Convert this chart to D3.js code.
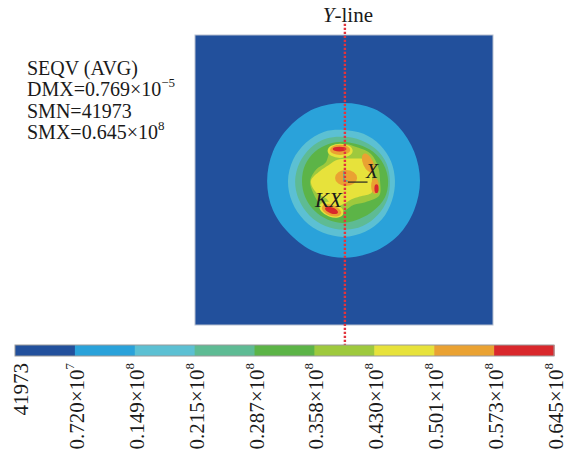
<!DOCTYPE html>
<html>
<head>
<meta charset="utf-8">
<script src="https://cdn.jsdelivr.net/npm/d3@7"></script>
<style>
  body { margin: 0; background: #fff; }
</style>
</head>
<body>
<div id="chart"></div>
<script>
// colour bands of the legend (SEQV, Pa)
const levelValues = [41973, 0.720e7, 0.149e8, 0.215e8, 0.287e8, 0.358e8, 0.430e8, 0.501e8, 0.573e8, 0.645e8];
const tickMantissa = ['41973', '0.720', '0.149', '0.215', '0.287', '0.358', '0.430', '0.501', '0.573', '0.645'];
const tickExponent = [null, '7', '8', '8', '8', '8', '8', '8', '8', '8'];
const bandColors = ['#22509c', '#2aa2da', '#5cc0d3', '#5ebb94', '#5cb447', '#9ec93d', '#e7e23b', '#eaa232', '#d9282c'];

// info block
const infoLines = [
  { text: 'SEQV (AVG)' },
  { text: 'DMX=0.769×10', sup: '−5' },
  { text: 'SMN=41973' },
  { text: 'SMX=0.645×10', sup: '8' }
];

// plate (mm) and contour rings, radius (mm) at 16 directions, clockwise from +x
const plateHalf = [5, 4.87];
const ringCenter = [0, -0.03];
const ringAngles = d3.range(16).map(i => i * 22.5);
const ringLevel = [1, 2, 3, 4, 5, 6];
const ring1 = [2.55, 2.55, 2.58, 2.58, 2.58, 2.58, 2.55, 2.58, 2.58, 2.58, 2.58, 2.62, 2.62, 2.62, 2.58, 2.55];
const ring2 = [1.71, 1.74, 1.81, 1.85, 1.88, 1.88, 1.88, 1.88, 1.88, 1.85, 1.81, 1.78, 1.71, 1.71, 1.71, 1.71];
const ring3 = [1.54, 1.58, 1.61, 1.64, 1.64, 1.64, 1.64, 1.64, 1.64, 1.61, 1.58, 1.54, 1.48, 1.48, 1.51, 1.54];
const ring4 = [1.48, 1.48, 1.41, 1.38, 1.41, 1.41, 1.41, 1.41, 1.41, 1.41, 1.38, 1.34, 1.31, 1.31, 1.38, 1.44];
const ring5 = [1.21, 1.28, 1.01, 0.87, 1.01, 1.28, 1.14, 1.11, 1.14, 1.01, 0.87, 1.14, 1.24, 1.21, 1.28, 1.24];
const ring6 = [0.94, 1.01, 0.74, 0.67, 0.77, 0.94, 0.84, 1.01, 1.11, 0.87, 0.74, 0.74, 0.74, 0.81, 1.01, 1.01];
const rings = [ring1, ring2, ring3, ring4, ring5, ring6];

// hot spots: level, centre x, y (mm), radii (mm), tilt (deg)
const spotLevel = [6, 6, 7, 7, 7, 7, 7, 8, 8, 8];
const spotX   = [-0.13, -0.42, 0.07, 0.81, 1.04, -0.13, -0.42, 1.09, -0.15, -0.42];
const spotY   = [0.98, -1.0, 0.07, 0.57, -0.20, 1.01, -1.02, -0.29, 1.04, -1.02];
const spotRx  = [0.42, 0.42, 0.37, 0.17, 0.13, 0.34, 0.34, 0.07, 0.23, 0.23];
const spotRy  = [0.24, 0.24, 0.27, 0.34, 0.27, 0.17, 0.18, 0.15, 0.08, 0.10];
const spotRot = [0, 20, 0, -25, 0, 0, 20, 0, 0, 20];

const yLineX = 0.03;
const yLineSpan = [5.25, -5.55];

const width = 568, height = 452;
const serif = '"Liberation Serif", "DejaVu Serif", "Times New Roman", serif';
const svg = d3.select('#chart').append('svg')
  .attr('width', width).attr('height', height)
  .attr('font-family', serif)
  .style('font-family', serif);

const x = d3.scaleLinear().domain([-plateHalf[0], plateHalf[0]]).range([195, 493]);
const y = d3.scaleLinear().domain([-plateHalf[1], plateHalf[1]]).range([325, 35]);

// plate
svg.append('rect')
  .attr('x', x(-plateHalf[0])).attr('y', y(plateHalf[1]))
  .attr('width', x(plateHalf[0]) - x(-plateHalf[0]))
  .attr('height', y(-plateHalf[1]) - y(plateHalf[1]))
  .attr('fill', bandColors[0])
  .attr('stroke', '#b7c0d0').attr('stroke-width', 1);

// contour rings
const ringLine = d3.line().curve(d3.curveCatmullRomClosed.alpha(0.5));
const contour = svg.append('g');
rings.forEach((r, k) => {
  const pts = ringAngles.map((a, i) => {
    const t = a * Math.PI / 180;
    return [x(ringCenter[0] + r[i] * Math.cos(t)), y(ringCenter[1] - r[i] * Math.sin(t))];
  });
  contour.append('path')
    .attr('d', ringLine(pts))
    .attr('fill', bandColors[ringLevel[k]]);
});

// hot spots
contour.selectAll('ellipse')
  .data(spotLevel.map((lv, i) => ({ lv, cx: spotX[i], cy: spotY[i], rx: spotRx[i], ry: spotRy[i], rot: spotRot[i] })))
  .join('ellipse')
  .attr('cx', d => x(d.cx)).attr('cy', d => y(d.cy))
  .attr('rx', d => x(d.rx) - x(0)).attr('ry', d => y(0) - y(d.ry))
  .attr('transform', d => `rotate(${d.rot},${x(d.cx)},${y(d.cy)})`)
  .attr('fill', d => bandColors[d.lv]);

// coordinate marker at the centre
svg.append('path')
  .attr('d', `M${x(0.0)},${y(0.3)}V${y(-0.03)}H${x(0.12)}`)
  .attr('fill', 'none').attr('stroke', '#38b6b0').attr('stroke-width', 1.2);
svg.append('line')
  .attr('x1', x(0.13)).attr('x2', x(0.79))
  .attr('y1', y(-0.07)).attr('y2', y(-0.07))
  .attr('stroke', '#222').attr('stroke-width', 1.2);
svg.append('text')
  .attr('x', x(0.74)).attr('y', y(0.07))
  .attr('fill', '#1a1a1a')
  .style('font-style', 'italic').style('font-size', '20px')
  .text('X');
svg.append('text')
  .attr('x', x(-0.97)).attr('y', y(-0.91))
  .attr('fill', '#1a1a1a')
  .style('font-style', 'italic').style('font-size', '21px')
  .text('KX');

// Y-line
svg.append('line')
  .attr('x1', x(yLineX)).attr('x2', x(yLineX))
  .attr('y1', y(yLineSpan[0])).attr('y2', y(yLineSpan[1]))
  .attr('stroke', '#e3343c').attr('stroke-width', 2.4)
  .attr('stroke-dasharray', '2.2 1.8');
const yl = svg.append('text')
  .attr('x', x(yLineX) + 3).attr('y', 22)
  .attr('text-anchor', 'middle')
  .attr('fill', '#1a1a1a')
  .style('font-size', '21px');
yl.append('tspan').style('font-style', 'italic').text('Y');
yl.append('tspan').text('-line');

// info block
const info = svg.append('g').attr('fill', '#1a1a1a');
infoLines.forEach((l, i) => {
  const t = info.append('text')
    .attr('x', 27).attr('y', 75 + i * 21.3)
    .style('font-size', '20px');
  t.append('tspan').text(l.text);
  if (l.sup) t.append('tspan').attr('dy', -9).style('font-size', '13px').text(l.sup);
});

// colour bar
const band = d3.scaleBand().domain(d3.range(bandColors.length)).range([15, 554]);
const tick = d3.scalePoint().domain(d3.range(levelValues.length)).range([15, 554]);
const bar = svg.append('g');
bar.selectAll('rect')
  .data(bandColors)
  .join('rect')
  .attr('x', (d, i) => band(i)).attr('y', 345)
  .attr('width', band.bandwidth() + 0.5).attr('height', 11)
  .attr('fill', d => d);
bar.append('rect')
  .attr('x', 15).attr('y', 345)
  .attr('width', 554 - 15).attr('height', 11)
  .attr('fill', 'none').attr('stroke', '#9a9a9a').attr('stroke-width', 1);

const labels = bar.selectAll('text.tick')
  .data(levelValues)
  .join('text')
  .attr('class', 'tick')
  .attr('fill', '#1a1a1a')
  .attr('transform', (d, i) => `translate(${Math.max(tick(i) + 2, 21)},363) rotate(-90)`)
  .attr('text-anchor', 'end')
  .attr('dominant-baseline', 'central')
  .style('font-size', '21px');
labels.append('tspan').text((d, i) => tickMantissa[i] + (tickExponent[i] ? '×10' : ''));
labels.filter((d, i) => tickExponent[i])
  .append('tspan').attr('dy', -8).style('font-size', '13px')
  .text((d, i) => tickExponent[levelValues.indexOf(d)]);
</script>
</body>
</html>
